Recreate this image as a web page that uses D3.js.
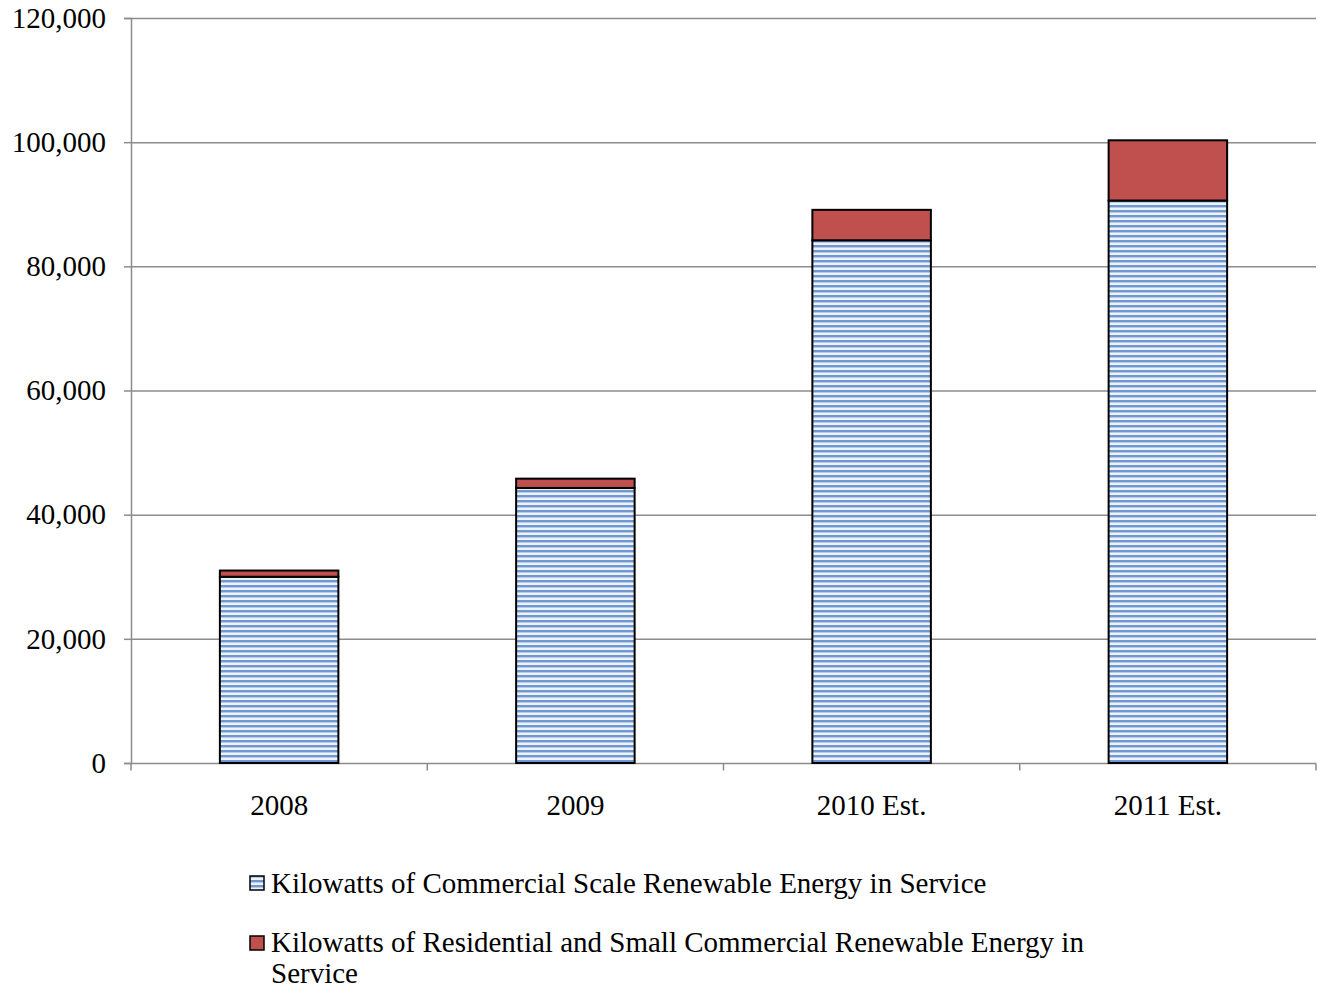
<!DOCTYPE html>
<html><head><meta charset="utf-8">
<script src="https://cdn.jsdelivr.net/npm/d3@7"></script>
<style>body{margin:0;background:#fff}svg{display:block}text{font-family:"Liberation Serif","Times New Roman",serif}</style>
</head><body>
<svg id="c" width="1319" height="990"></svg>
<script>
const categories = ["2008", "2009", "2010 Est.", "2011 Est."];
const commercial = [30000, 44300, 84200, 90600];
const residential = [1000, 1500, 4900, 9700];
const seriesNames = ["Kilowatts of Commercial Scale Renewable Energy in Service",
  "Kilowatts of Residential and Small Commercial Renewable Energy in Service"];
const yTicks = [0, 20000, 40000, 60000, 80000, 100000, 120000];

const svg = d3.select("#c");
const m = {l: 131, r: 1316, t: 18, b: 763};
const FS = 29;
const defs = svg.append("defs");
const pat = defs.append("pattern").attr("id", "stripe").attr("patternUnits", "userSpaceOnUse")
  .attr("width", 8).attr("height", 5);
pat.append("rect").attr("width", 8).attr("height", 5).attr("fill", "#eef3fa");
pat.append("rect").attr("y", 0).attr("width", 8).attr("height", 2).attr("fill", "#7098d0");
pat.append("rect").attr("y", 2).attr("width", 8).attr("height", 1).attr("fill", "#b5c9e8");

const x = d3.scaleBand().domain(categories).range([m.l, m.r]).paddingInner(0.6).paddingOuter(0.3);
const y = d3.scaleLinear().domain([0, 120000]).range([m.b, m.t]);

// gridlines
svg.append("g").selectAll("line").data(yTicks.slice(1)).join("line")
  .attr("x1", m.l).attr("x2", m.r).attr("y1", d => y(d) + 0.5).attr("y2", d => y(d) + 0.5)
  .attr("stroke", "#8c8c8c").attr("stroke-width", 1.5);

// y axis
const ya = svg.append("g").attr("transform", `translate(${m.l},0)`)
  .call(d3.axisLeft(y).tickValues(yTicks).tickFormat(d3.format(",")).tickSize(7).tickPadding(18));
ya.select(".domain").attr("stroke", "#8c8c8c").attr("stroke-width", 1.5);
ya.selectAll(".tick line").attr("stroke", "#8c8c8c").attr("stroke-width", 1.5);
ya.selectAll("text").attr("font-size", FS).attr("fill", "#000").attr("font-family", "Liberation Serif");

// x axis
const step = (m.r - m.l) / categories.length;
const xa = svg.append("g").attr("transform", `translate(0,${m.b + 0.5})`);
xa.append("line").attr("x1", m.l).attr("x2", m.r).attr("stroke", "#8c8c8c").attr("stroke-width", 1.5);
xa.selectAll("line.t").data(d3.range(categories.length + 1)).join("line").attr("class", "t")
  .attr("x1", i => m.l + i * step).attr("x2", i => m.l + i * step).attr("y1", 0).attr("y2", 7)
  .attr("stroke", "#8c8c8c").attr("stroke-width", 1.5);
xa.selectAll("text").data(categories).join("text")
  .attr("x", d => x(d) + x.bandwidth() / 2).attr("y", 51).attr("text-anchor", "middle")
  .attr("font-size", FS).text(d => d);

// bars
const bars = svg.append("g");
categories.forEach((c, i) => {
  bars.append("rect").attr("x", x(c)).attr("width", x.bandwidth())
    .attr("y", y(commercial[i])).attr("height", y(0) - y(commercial[i]))
    .attr("fill", "url(#stripe)").attr("stroke", "#000").attr("stroke-width", 2);
  bars.append("rect").attr("x", x(c)).attr("width", x.bandwidth())
    .attr("y", y(commercial[i] + residential[i])).attr("height", y(commercial[i]) - y(commercial[i] + residential[i]))
    .attr("fill", "#c0504d").attr("stroke", "#000").attr("stroke-width", 2);
});

// legend
const lg = svg.append("g");
const fills = ["url(#stripe)", "#c0504d"];
lg.append("rect").attr("x", 250).attr("y", 876).attr("width", 14).attr("height", 14)
  .attr("fill", fills[0]).attr("stroke", "#000").attr("stroke-width", 1.5);
lg.append("text").attr("x", 271).attr("y", 893).attr("font-size", FS).text(seriesNames[0]);
lg.append("rect").attr("x", 250).attr("y", 936).attr("width", 14).attr("height", 14)
  .attr("fill", fills[1]).attr("stroke", "#000").attr("stroke-width", 1.5);
const t2 = lg.append("text").attr("x", 271).attr("y", 952).attr("font-size", FS);
t2.append("tspan").attr("x", 271).text("Kilowatts of Residential and Small Commercial Renewable Energy in");
t2.append("tspan").attr("x", 271).attr("dy", 31).text("Service");
</script>
</body></html>
